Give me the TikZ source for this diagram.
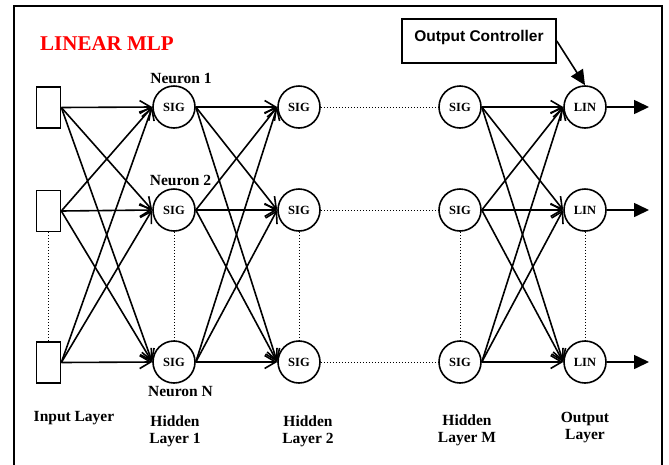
\documentclass[tikz,border=0pt]{standalone}
\usepackage{fontspec}
\setmainfont{Liberation Serif}
\newfontfamily\arialfont{Liberation Sans}
\usetikzlibrary{arrows.meta}
\begin{document}
\begin{tikzpicture}[x=1pt,y=-1pt,
  neuron/.style={circle,draw,line width=1.6pt,minimum size=42pt,inner sep=0pt,font=\fontsize{12.5}{14}\selectfont\bfseries},
  inbox/.style={rectangle,draw,line width=1.6pt,minimum width=24pt,minimum height=41pt,inner sep=0pt},
  lbl/.style={font=\fontsize{15.5}{17}\selectfont\bfseries,align=center,inner sep=0pt},
  arr/.style={line width=1.6pt,-{Straight Barb[length=11pt,width=13pt,line width=1.6pt]}},
  farr/.style={line width=1.6pt,-{Triangle[length=15pt,width=14pt]}},
  dots/.style={line width=1pt,dotted}]
\useasboundingbox (0,0) rectangle (669,464);
\draw[line width=1.8pt] (14,470) -- (14,6) -- (662,6) -- (662,470);
\node[anchor=west,text=red,font=\fontsize{21}{24}\selectfont\bfseries,inner sep=0pt] (title) at (40,44) {LINEAR MLP};
% input layer
\node[inbox] (i1) at (48.5,107.5) {};
\node[inbox] (i2) at (48.5,211) {};
\node[inbox] (i3) at (48.5,362.5) {};
% layers
\foreach \r/\y in {1/107,2/210,3/362}{
  \node[neuron] (a\r) at (174,\y) {SIG};
  \node[neuron] (b\r) at (299,\y) {SIG};
  \node[neuron] (m\r) at (460,\y) {SIG};
  \node[neuron] (o\r) at (585,\y) {LIN};
  \coordinate (e\r) at (649,\y);
}
% connections
\foreach \s in {1,2,3}{
  \foreach \t in {1,2,3}{
    \draw[arr] (i\s.east) -- (a\t.west);
    \draw[arr] (a\s.east) -- (b\t.west);
    \draw[arr] (m\s.east) -- (o\t.west);
  }
  \draw[dots] (b\s.east) -- (m\s.west);
  \draw[farr] (o\s.east) -- (e\s);
}
\draw[dots] (i2.south) -- (i3.north);
\draw[dots] (a2.south) -- (a3.north);
\draw[dots] (b2.south) -- (b3.north);
\draw[dots] (m2.south) -- (m3.north);
\draw[dots] (o2.south) -- (o3.north);
% output controller
\node[draw,line width=1.6pt,minimum width=154pt,inner xsep=0pt,inner ysep=8pt,text height=14pt,text depth=14pt,font=\arialfont\fontsize{15.5}{17}\selectfont\bfseries] (oc) at (479,41) {Output Controller};
\draw[farr] (oc.east) -- (o1.north);
% labels
\node[lbl] (n1) at (181,78) {Neuron 1};
\node[lbl] (n2) at (180.5,180) {Neuron 2};
\node[lbl] (nn) at (180.5,392) {Neuron N};
\node[lbl] (li) at (74,418) {Input Layer};
\node[lbl] (l1) at (175,431) {Hidden\\Layer 1};
\node[lbl] (l2) at (308,431) {Hidden\\Layer 2};
\node[lbl] (lm) at (467,430) {Hidden\\Layer M};
\node[lbl] (lo) at (585,428) {Output\\Layer};
\end{tikzpicture}
\end{document}
